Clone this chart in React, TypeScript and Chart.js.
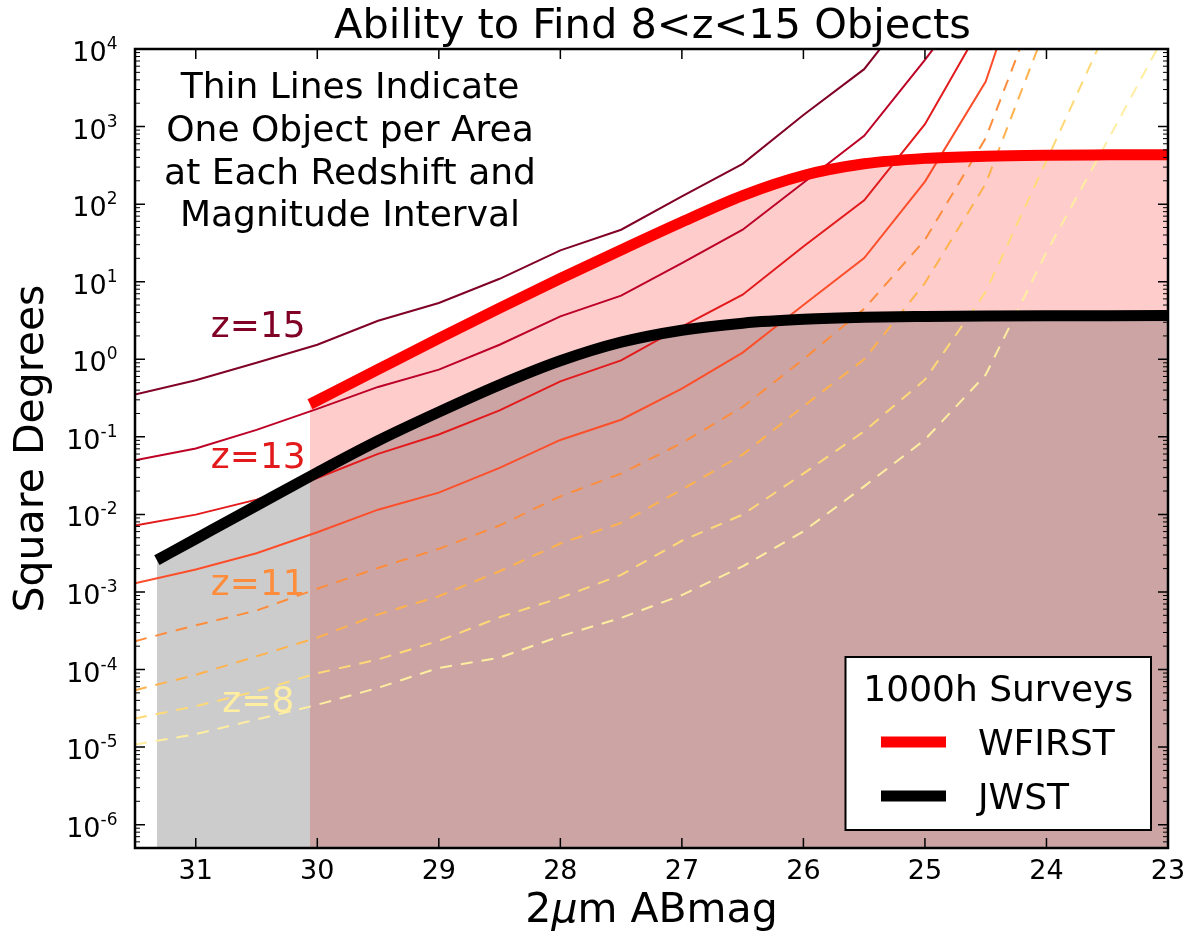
import React, { useEffect, useRef } from "react";
import { Chart, registerables } from "chart.js";
Chart.register(...registerables);

// ---- data ----
const mags = [31.5, 31, 30.5, 30, 29.5, 29, 28.5, 28, 27.5, 27, 26.5, 26, 25.5, 25, 24.5, 24, 23.5, 23];
const z15 = [0.35, 0.537, 0.9, 1.54, 3.14, 5.31, 10.9, 25.3, 46.8, 126, 331, 1413, 5495, 54950, null, null, null, null];
const z14 = [0.05, 0.0708, 0.123, 0.229, 0.44, 0.735, 1.54, 3.57, 6.61, 17.4, 46.8, 189, 759, 7244, 79430, null, null, null];
const z13 = [0.00718, 0.00993, 0.0155, 0.0295, 0.0603, 0.107, 0.219, 0.519, 0.968, 2.63, 6.79, 28.5, 112, 1072, 25120, null, null, null];
const z12 = [0.00129, 0.00195, 0.00316, 0.00589, 0.0115, 0.0191, 0.0398, 0.0912, 0.166, 0.417, 1.22, 5.01, 20.2, 195, 3802, 794300, null, null];
const z11 = [2.32e-4, 3.72e-4, 5.75e-4, 1.1e-3, 2.04e-3, 3.59e-3, 7.18e-3, 0.0171, 0.0336, 0.0834, 0.243, 1.0, 4.47, 34.7, 708, 79430, null, null];
const z10 = [5.41e-5, 8.53e-5, 1.48e-4, 2.58e-4, 5.12e-4, 8.81e-4, 1.85e-3, 4.21e-3, 7.76e-3, 0.0209, 0.059, 0.247, 1.0, 9.62, 183, 19950, null, null];
const z9 = [2.34e-5, 3.37e-5, 5.25e-5, 8.95e-5, 1.35e-4, 2.34e-4, 4.72e-4, 8.39e-4, 1.66e-3, 4.57e-3, 9.93e-3, 0.0336, 0.118, 0.546, 7.41, 363, 18620, null];
const z8 = [1.08e-5, 1.47e-5, 2.27e-5, 3.51e-5, 5.81e-5, 1.05e-4, 1.42e-4, 2.69e-4, 4.63e-4, 9.12e-4, 2.14e-3, 6.05e-3, 0.023, 0.092, 0.631, 24.0, 646, 18200];

const wfirstMags = [30.06, 29.5, 29, 28.5, 28, 27.5, 27, 26.5, 26, 25.5, 25, 24.5, 24, 23.5, 23];
const wfirstArea = [0.263, 0.741, 1.86, 4.57, 11.0, 25.7, 58.9, 129, 234, 331, 389, 415, 427, 432, 434];
const jwstMags = [31.32, 31, 30.5, 30, 29.5, 29, 28.5, 28, 27.5, 27, 26.5, 26, 25.5, 25, 24.5, 24, 23.5, 23];
const jwstArea = [2.57e-3, 4.84e-3, 0.013, 0.0347, 0.0891, 0.209, 0.468, 0.955, 1.66, 2.37, 2.92, 3.27, 3.47, 3.56, 3.61, 3.64, 3.65, 3.66];

const xTickValues = [31, 30, 29, 28, 27, 26, 25, 24, 23];
const xTickLabels = ["31", "30", "29", "28", "27", "26", "25", "24", "23"];
const yTickExponents = [-6, -5, -4, -3, -2, -1, 0, 1, 2, 3, 4];

const titleText = "Ability to Find 8<z<15 Objects";
const noteLines = ["Thin Lines Indicate", "One Object per Area", "at Each Redshift and", "Magnitude Interval"];
const zLabels = ["z=15", "z=13", "z=11", "z=8"];
const zLabelColors = ["#800026", "#e31a1c", "#fd8d3c", "#ffeda0"];
const legendTitle = "1000h Surveys";
const legendNames = ["WFIRST", "JWST"];
const legendColors = ["#ff0000", "#000000"];

const FONT = '"DejaVu Sans"';

function pts(xs: number[], ys: (number | null)[]) {
  const out: { x: number; y: number }[] = [];
  xs.forEach((x, i) => {
    const v = ys[i];
    if (v != null) out.push({ x, y: v });
  });
  return out;
}

function thin(label: string, arr: (number | null)[], color: string, dashed: boolean) {
  return {
    label,
    data: pts(mags, arr),
    borderColor: color,
    backgroundColor: color,
    borderWidth: 2,
    borderDash: dashed ? [12, 9] : [],
    pointRadius: 0,
    tension: 0,
    fill: false,
    order: 5,
    clip: 0,
  };
}

const decorPlugin = {
  id: "decor",
  afterDraw(chart: any) {
    const ctx: CanvasRenderingContext2D = chart.ctx;
    const { left, right, top, bottom } = chart.chartArea;
    const xs = chart.scales.x;
    const ys = chart.scales.y;
    ctx.save();

    // z labels
    ctx.font = `36px ${FONT}`;
    ctx.textAlign = "center";
    ctx.textBaseline = "alphabetic";
    const zBase = [336.7, 468.3, 595, 711.7];
    zLabels.forEach((t, i) => {
      ctx.fillStyle = zLabelColors[i];
      ctx.fillText(t, 258.3, zBase[i]);
    });

    // annotation
    ctx.fillStyle = "#000";
    ctx.font = `36px ${FONT}`;
    const noteBase = [98.3, 141, 183.7, 226.4];
    noteLines.forEach((t, i) => ctx.fillText(t, 350, noteBase[i]));

    // legend
    const lx = 845.5, ly = 657, lw = 305.5, lh = 173;
    ctx.fillStyle = "#fff";
    ctx.fillRect(lx, ly, lw, lh);
    ctx.lineWidth = 2;
    ctx.strokeStyle = "#000";
    ctx.strokeRect(lx, ly, lw, lh);
    ctx.fillStyle = "#000";
    ctx.font = `36px ${FONT}`;
    ctx.textAlign = "center";
    ctx.fillText(legendTitle, lx + lw / 2, 701);
    const rowY = [742, 796];
    const rowBase = [755, 809];
    legendNames.forEach((n, i) => {
      ctx.beginPath();
      ctx.lineCap = "butt";
      ctx.lineWidth = 11;
      ctx.strokeStyle = legendColors[i];
      ctx.moveTo(881, rowY[i]);
      ctx.lineTo(946, rowY[i]);
      ctx.stroke();
      ctx.fillStyle = "#000";
      ctx.textAlign = "left";
      ctx.fillText(n, 978, rowBase[i]);
    });

    // frame
    ctx.lineWidth = 2.5;
    ctx.strokeStyle = "#000";
    ctx.strokeRect(left, top, right - left, bottom - top);

    // x ticks
    ctx.lineWidth = 1.5;
    ctx.font = `27px ${FONT}`;
    ctx.textAlign = "center";
    ctx.fillStyle = "#000";
    xTickValues.forEach((v, i) => {
      const px = xs.getPixelForValue(v);
      ctx.beginPath();
      ctx.moveTo(px, bottom);
      ctx.lineTo(px, bottom - 10);
      ctx.moveTo(px, top);
      ctx.lineTo(px, top + 10);
      ctx.stroke();
      ctx.fillText(xTickLabels[i], px, 879.3);
    });

    // y ticks
    yTickExponents.forEach((n) => {
      const py = ys.getPixelForValue(Math.pow(10, n));
      ctx.lineWidth = 1.5;
      ctx.beginPath();
      ctx.moveTo(left, py);
      ctx.lineTo(left + 10, py);
      ctx.moveTo(right, py);
      ctx.lineTo(right - 10, py);
      ctx.stroke();
      const sup = n < 0 ? "-" + Math.abs(n) : String(n);
      ctx.font = `17px ${FONT}`;
      const sw = ctx.measureText(sup).width;
      ctx.textAlign = "left";
      const supX = 117.5 - sw;
      ctx.fillText(sup, supX, py);
      ctx.font = `27px ${FONT}`;
      ctx.textAlign = "right";
      ctx.fillText("10", supX, py + 12);
    });
    ctx.lineWidth = 1;
    for (let n = -7; n <= 3; n++) {
      for (let k = 2; k <= 9; k++) {
        const v = k * Math.pow(10, n);
        if (v < ys.min || v > ys.max) continue;
        const py = ys.getPixelForValue(v);
        ctx.beginPath();
        ctx.moveTo(left, py);
        ctx.lineTo(left + 5, py);
        ctx.moveTo(right, py);
        ctx.lineTo(right - 5, py);
        ctx.stroke();
      }
    }

    // title
    ctx.font = `41.5px ${FONT}`;
    ctx.textAlign = "center";
    ctx.fillText(titleText, (left + right) / 2 + 1, 38);

    // x label: 2μm ABmag (μ italic)
    const partA = "2", partB = "\u03bc", partC = "m ABmag";
    ctx.font = `41px ${FONT}`;
    const wa = ctx.measureText(partA).width;
    const wc = ctx.measureText(partC).width;
    ctx.font = `italic 41px ${FONT}`;
    const wb = ctx.measureText(partB).width;
    const sx = (left + right) / 2 - (wa + wb + wc) / 2;
    ctx.textAlign = "left";
    ctx.font = `41px ${FONT}`;
    ctx.fillText(partA, sx, 922);
    ctx.font = `italic 41px ${FONT}`;
    ctx.fillText(partB, sx + wa, 922);
    ctx.font = `41px ${FONT}`;
    ctx.fillText(partC, sx + wa + wb, 922);

    // y label
    ctx.save();
    ctx.translate(43, (top + bottom) / 2);
    ctx.rotate(-Math.PI / 2);
    ctx.textAlign = "center";
    ctx.font = `41px ${FONT}`;
    ctx.fillText("Square Degrees", 0, 0);
    ctx.restore();

    ctx.restore();
  },
};

export default function App() {
  const ref = useRef<HTMLCanvasElement>(null);
  useEffect(() => {
    const datasets: any[] = [
      {
        label: "WFIRST fill",
        data: pts(wfirstMags, wfirstArea),
        borderWidth: 0,
        borderColor: "rgba(0,0,0,0)",
        backgroundColor: "rgba(255,0,0,0.2)",
        fill: "start",
        pointRadius: 0,
        cubicInterpolationMode: "monotone",
        order: 10,
        clip: 0,
      },
      {
        label: "JWST fill",
        data: pts(jwstMags, jwstArea),
        borderWidth: 0,
        borderColor: "rgba(0,0,0,0)",
        backgroundColor: "rgba(0,0,0,0.2)",
        fill: "start",
        pointRadius: 0,
        cubicInterpolationMode: "monotone",
        order: 9,
        clip: 0,
      },
      thin("z=15", z15, "#800026", false),
      thin("z=14", z14, "#bd0026", false),
      thin("z=13", z13, "#e31a1c", false),
      thin("z=12", z12, "#fc4e2a", false),
      thin("z=11", z11, "#fd8d3c", true),
      thin("z=10", z10, "#feb24c", true),
      thin("z=9", z9, "#fed976", true),
      thin("z=8", z8, "#ffeda0", true),
      {
        label: "WFIRST",
        data: pts(wfirstMags, wfirstArea),
        borderColor: "#ff0000",
        borderWidth: 11,
        borderCapStyle: "butt",
        pointRadius: 0,
        fill: false,
        cubicInterpolationMode: "monotone",
        order: 2,
        clip: 0,
      },
      {
        label: "JWST",
        data: pts(jwstMags, jwstArea),
        borderColor: "#000000",
        borderWidth: 11,
        borderCapStyle: "butt",
        pointRadius: 0,
        fill: false,
        cubicInterpolationMode: "monotone",
        order: 1,
        clip: 0,
      },
    ];
    const chart = new Chart(ref.current as HTMLCanvasElement, {
      type: "line",
      data: { datasets },
      options: {
        animation: false,
        responsive: false,
        devicePixelRatio: 1,
        events: [],
        layout: { padding: { top: 49, right: 25, left: 0, bottom: 0 } },
        plugins: {
          legend: { display: false },
          tooltip: { enabled: false },
          title: { display: false },
        },
        scales: {
          x: {
            type: "linear",
            reverse: true,
            min: 23,
            max: 31.5,
            grid: { display: false },
            border: { display: false },
            ticks: { display: false },
            afterFit: (s: any) => {
              s.height = 83;
            },
          },
          y: {
            type: "logarithmic",
            min: 5e-7,
            max: 1e4,
            grid: { display: false },
            border: { display: false },
            ticks: { display: false },
            afterFit: (s: any) => {
              s.width = 135;
            },
          },
        },
      } as any,
      plugins: [decorPlugin],
    });
    return () => chart.destroy();
  }, []);
  return (
    <div style={{ position: "absolute", left: 0, top: 0, width: 1193, height: 931, background: "#fff" }}>
      <canvas ref={ref} width={1193} height={931} style={{ display: "block", width: 1193, height: 931 }} />
    </div>
  );
}
